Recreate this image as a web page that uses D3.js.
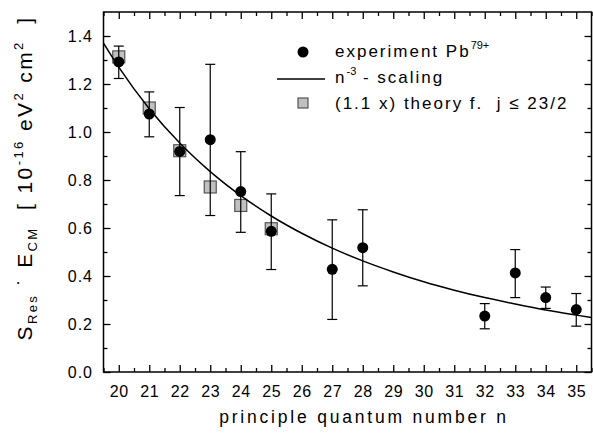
<!DOCTYPE html>
<html>
<head>
<meta charset="utf-8">
<script src="https://cdn.jsdelivr.net/npm/d3@7"></script>
<style>
  body { margin: 0; background: #fff; }
  svg { display: block; font-family: Arial, "Liberation Sans", sans-serif; }
</style>
</head>
<body>
<svg id="chart"></svg>
<script>
// data
var nExp   = [20, 21, 22, 23, 24, 25, 27, 28, 32, 33, 34, 35];
var sExp   = [1.292, 1.075, 0.919, 0.968, 0.752, 0.586, 0.428, 0.518, 0.233, 0.413, 0.310, 0.260];
var errHi  = [1.358, 1.167, 1.102, 1.282, 0.918, 0.742, 0.634, 0.676, 0.285, 0.510, 0.354, 0.327];
var errLo  = [1.223, 0.980, 0.735, 0.652, 0.582, 0.427, 0.219, 0.359, 0.180, 0.310, 0.265, 0.191];

var nTheo  = [20, 21, 22, 23, 24, 25];
var sTheo  = [1.313, 1.100, 0.922, 0.771, 0.694, 0.597];

var nCurve = [19.5, 20, 21, 22, 23, 24, 25, 26, 27, 28, 29, 30, 31, 32, 33, 34, 35, 35.5];
var sCurve = [1.370, 1.270, 1.097, 0.954, 0.835, 0.735, 0.650, 0.578, 0.516, 0.463,
              0.417, 0.376, 0.341, 0.310, 0.283, 0.258, 0.237, 0.227];

var xTicks = d3.range(20, 36);
var yTicks = [0.0, 0.2, 0.4, 0.6, 0.8, 1.0, 1.2, 1.4];

var width = 593, height = 433;
var pLeft = 103.5, pRight = 591.5, pTop = 12, pBottom = 372;

var svg = d3.select("#chart").attr("width", width).attr("height", height);

var x = d3.scaleLinear().domain([19.5, 35.5]).range([pLeft, pRight]);
var y = d3.scaleLinear().domain([0, 1.5]).range([pBottom, pTop]);

// axes, ticks pointing inward on all four sides
var minorX = d3.range(19.5, 35.6, 1);
var minorY = d3.range(0.1, 1.5, 0.2);

svg.append("g").attr("transform", "translate(0," + pBottom + ")")
    .call(d3.axisTop(x).tickValues(minorX).tickSize(4).tickFormat(""));
svg.append("g").attr("transform", "translate(0," + pBottom + ")")
    .call(d3.axisTop(x).tickValues(xTicks).tickSize(7).tickFormat(""));
svg.append("g").attr("transform", "translate(0," + pTop + ")")
    .call(d3.axisBottom(x).tickValues(minorX).tickSize(4).tickFormat(""));
svg.append("g").attr("transform", "translate(0," + pTop + ")")
    .call(d3.axisBottom(x).tickValues(xTicks).tickSize(7).tickFormat(""));
svg.append("g").attr("transform", "translate(" + pLeft + ",0)")
    .call(d3.axisRight(y).tickValues(minorY).tickSize(4).tickFormat(""));
svg.append("g").attr("transform", "translate(" + pLeft + ",0)")
    .call(d3.axisRight(y).tickValues(yTicks).tickSize(7).tickFormat(""));
svg.append("g").attr("transform", "translate(" + pRight + ",0)")
    .call(d3.axisLeft(y).tickValues(minorY).tickSize(4).tickFormat(""));
svg.append("g").attr("transform", "translate(" + pRight + ",0)")
    .call(d3.axisLeft(y).tickValues(yTicks).tickSize(7).tickFormat(""));

svg.selectAll(".domain").remove();
svg.selectAll(".tick line").attr("stroke", "#000").attr("stroke-width", 1.3);

svg.append("rect")
    .attr("x", pLeft).attr("y", pTop)
    .attr("width", pRight - pLeft).attr("height", pBottom - pTop)
    .attr("fill", "none").attr("stroke", "#000").attr("stroke-width", 1.5);

// tick labels
svg.append("g").selectAll("text").data(xTicks).join("text")
    .attr("x", d => x(d) + 0.5)
    .attr("y", 397)
    .attr("text-anchor", "middle")
    .style("font-size", "16px")
    .style("letter-spacing", "0.5px")
    .text(d => d);

svg.append("g").selectAll("text").data(yTicks).join("text")
    .attr("x", 93)
    .attr("y", d => y(d) + 5.5)
    .attr("text-anchor", "end")
    .style("font-size", "16px")
    .style("letter-spacing", "1px")
    .text(d => d.toFixed(1));

// axis titles
svg.append("text")
    .attr("x", 364).attr("y", 423)
    .attr("text-anchor", "middle")
    .style("font-size", "17.5px")
    .style("letter-spacing", "2.8px")
    .text("principle quantum number n");

var yl = svg.append("text")
    .attr("transform", "translate(32,178) rotate(-90)")
    .attr("text-anchor", "middle")
    .style("font-size", "21px")
    .style("letter-spacing", "2.4px");
yl.append("tspan").text("S");
yl.append("tspan").attr("dy", 5).style("font-size", "13px").text("Res");
yl.append("tspan").attr("dy", -5).text("\u00A0\u02D9\u00A0E");
yl.append("tspan").attr("dy", 5).style("font-size", "13px").text("CM");
yl.append("tspan").attr("dy", -5).text("\u00A0\u00A0[\u00A010");
yl.append("tspan").attr("dy", -9).style("font-size", "13px").text("-16");
yl.append("tspan").attr("dy", 9).text("\u00A0eV");
yl.append("tspan").attr("dy", -9).style("font-size", "13px").text("2");
yl.append("tspan").attr("dy", 9).text("\u00A0cm");
yl.append("tspan").attr("dy", -9).style("font-size", "13px").text("2");
yl.append("tspan").attr("dy", 9).text("\u00A0\u00A0]");

// theory squares
svg.append("g").selectAll("rect").data(nTheo).join("rect")
    .attr("x", (d, i) => x(d) - 6)
    .attr("y", (d, i) => y(sTheo[i]) - 6)
    .attr("width", 12).attr("height", 12)
    .attr("fill", "#c0c0c0")
    .attr("stroke", "#555").attr("stroke-width", 1.2);

// n^-3 curve
var line = d3.line()
    .x((d, i) => x(nCurve[i]))
    .y((d, i) => y(sCurve[i]))
    .curve(d3.curveMonotoneX);
svg.append("path")
    .attr("d", line(nCurve))
    .attr("fill", "none")
    .attr("stroke", "#000")
    .attr("stroke-width", 1.5);

// error bars
var eb = svg.append("g").attr("stroke", "#000").attr("stroke-width", 1.2);
nExp.forEach(function(n, i) {
    var cx = x(n);
    eb.append("line").attr("x1", cx).attr("x2", cx).attr("y1", y(errHi[i])).attr("y2", y(errLo[i]));
    eb.append("line").attr("x1", cx - 5).attr("x2", cx + 5).attr("y1", y(errHi[i])).attr("y2", y(errHi[i]));
    eb.append("line").attr("x1", cx - 5).attr("x2", cx + 5).attr("y1", y(errLo[i])).attr("y2", y(errLo[i]));
});

// experiment points
svg.append("g").selectAll("circle").data(nExp).join("circle")
    .attr("cx", d => x(d))
    .attr("cy", (d, i) => y(sExp[i]))
    .attr("r", 5.5)
    .attr("fill", "#000");

// legend
var lg = svg.append("g").style("font-size", "17px").style("letter-spacing", "2px");
lg.append("circle").attr("cx", 303).attr("cy", 52).attr("r", 5.5).attr("fill", "#000");
var t1 = lg.append("text").attr("x", 335).attr("y", 57);
t1.append("tspan").text("experiment Pb");
t1.append("tspan").attr("dy", -8).style("font-size", "11px").style("letter-spacing", "0px").text("79+");

lg.append("line").attr("x1", 277).attr("x2", 325).attr("y1", 79).attr("y2", 79)
    .attr("stroke", "#000").attr("stroke-width", 1.5);
var t2 = lg.append("text").attr("x", 335).attr("y", 83);
t2.append("tspan").text("n");
t2.append("tspan").attr("dy", -8).style("font-size", "11px").style("letter-spacing", "0px").text("-3");
t2.append("tspan").attr("dy", 8).text("\u00A0- scaling");

lg.append("rect").attr("x", 298).attr("y", 98).attr("width", 10).attr("height", 10)
    .attr("fill", "#c0c0c0").attr("stroke", "#555").attr("stroke-width", 1.2);
lg.append("text").attr("x", 335).attr("y", 109)
    .text("(1.1 x) theory f.\u00A0\u00A0j\u00A0\u2264\u00A023/2");
</script>
</body>
</html>
